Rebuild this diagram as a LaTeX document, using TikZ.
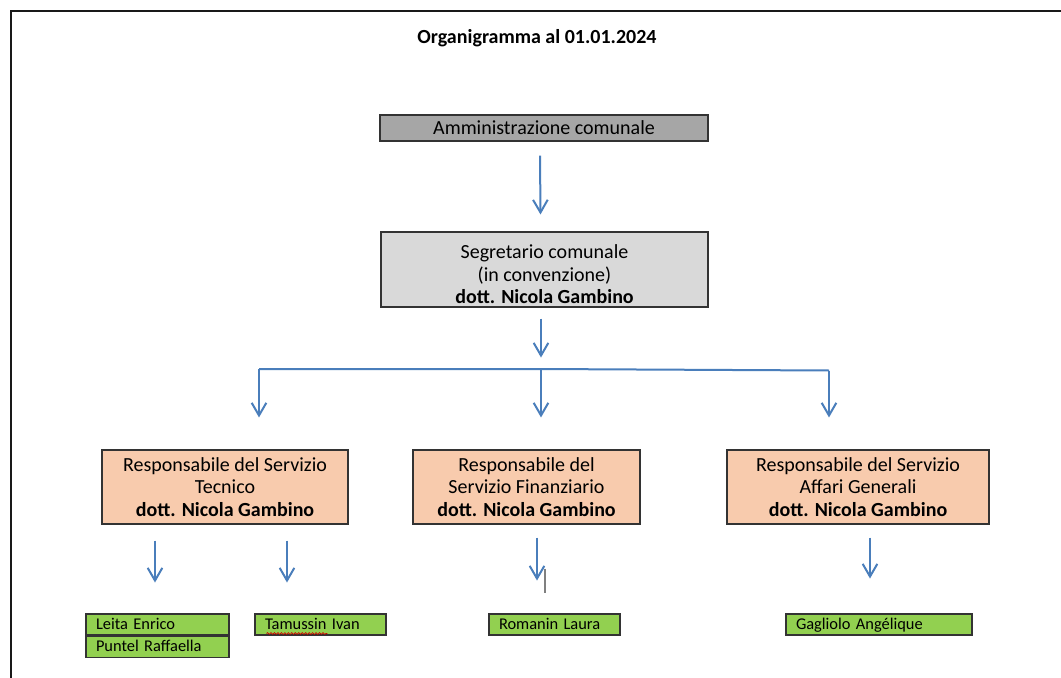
\documentclass[tikz,border=0pt]{standalone}
\usepackage{fontspec}
\setmainfont{Carlito}
\usepackage{xcolor}
\usetikzlibrary{arrows.meta, calc, positioning, decorations.pathmorphing}

\definecolor{admingray}{HTML}{A6A6A6}
\definecolor{segrgray}{HTML}{D9D9D9}
\definecolor{peach}{HTML}{F8CBAD}
\definecolor{staffgreen}{HTML}{92D050}
\definecolor{linkblue}{HTML}{4A7EBB}

\begin{document}
\begin{tikzpicture}[
    x=0.75pt, y=-0.75pt,
    every node/.style={font=\fontsize{15}{16.9}\selectfont},
    headbox/.style={rectangle, draw=black!80, line width=0.8pt, fill=admingray, minimum width=246pt, minimum height=19.5pt, inner sep=0pt},
    segrbox/.style={rectangle, draw=black!80, line width=0.8pt, fill=segrgray, minimum width=245.25pt, minimum height=56.25pt, inner sep=0pt},
    servbox/.style={rectangle, draw=black!80, line width=0.8pt, fill=peach, align=center, minimum width=#1, minimum height=55.5pt, inner sep=0pt},
    staffbox/.style={rectangle, draw=black!80, line width=0.8pt, fill=staffgreen, text width=#1, align=left, minimum height=15.75pt, text height=9.6pt, text depth=2pt, inner xsep=7.5pt, inner ysep=0pt, font=\fontsize{12.3}{14}\selectfont},
    arrow/.style={-{Straight Barb[length=9.5pt, width=11pt]}, draw=linkblue, line width=1.5pt},
    link/.style={draw=linkblue, line width=1.5pt},
    frame/.style={draw=black!90, line width=2pt}
]
\useasboundingbox (0,0) rectangle (1061,678);

% page frame
\draw[frame] (11,690) -- (11,11) -- (1070,11);

% Title
\node[font=\fontsize{15}{17}\selectfont\bfseries] (title) at (537,38) {Organigramma al 01.01.2024};

% Top levels
\node[headbox] (admin) at (544,128) {Amministrazione comunale};
\node[segrbox] (segr) at (544.5,269.5) {};
\node[align=center, inner sep=0pt] (segrtext) at ($(segr)+(0,5)$) {Segretario comunale\\(in convenzione)\\\textbf{dott. Nicola Gambino}};

% Services
\node[servbox=184.5pt] (tec) at (225,487) {Responsabile del Servizio\\Tecnico\\\textbf{dott. Nicola Gambino}};
\node[servbox=170.25pt] (fin) at (526.5,487) {Responsabile del\\Servizio Finanziario\\\textbf{dott. Nicola Gambino}};
\node[servbox=196.5pt] (aff) at (858,487) {Responsabile del Servizio\\Affari Generali\\\textbf{dott. Nicola Gambino}};

% Staff
\node[staffbox=92.25pt] (leita) at (157.5,624.5) {Leita Enrico};
\node[staffbox=92.25pt, below=0pt of leita] (puntel) {Puntel Raffaella};
\node[staffbox=83.25pt] (tamussin) at (320.5,624.5) {Tamussin Ivan};
\node[staffbox=83.25pt] (romanin) at (554.5,624.5) {Romanin Laura};
\node[staffbox=124.5pt] (gagliolo) at (879,624.5) {Gagliolo Angélique};

% spell-check squiggle
\draw[red!80!black, line width=0.5pt, decorate, decoration={snake, amplitude=0.7pt, segment length=2.6pt}]
    ($(tamussin.south west)+(12,-2)$) -- ++(61,0);

% Arrows - top
\draw[arrow] ($(admin.south)+(-4,14)$) -- ($(segr.north)+(-4,-17)$);
\draw[arrow] ($(segr.south)+(-3.5,11)$) -- ++(0,39);

% Bus to services
\coordinate (busL) at (259,369);
\coordinate (busM) at (541,369);
\coordinate (busR) at (829,370.5);
\draw[link] (busL) -- (busM) -- (busR);
\foreach \b/\s in {busL/tec, busM/fin, busR/aff}
    \draw[arrow, shorten >=24pt] (\b) -- (\b |- \s.north);

% Arrows - services to staff
\draw[arrow] ($(tec.south)+(-70,16)$) -- ++(0,42);
\draw[arrow] ($(tec.south)+(62,16)$) -- ++(0,42);
\draw[arrow] ($(fin.south)+(10.5,13)$) -- ++(0,43);
\draw[arrow] ($(aff.south)+(12,13)$) -- ++(0,41);

% stray mark
\coordinate (stray) at ($(fin.south)+(18.5,44)$);
\draw[gray, line width=1pt] (stray) -- ++(0,24);

\end{tikzpicture}
\end{document}
